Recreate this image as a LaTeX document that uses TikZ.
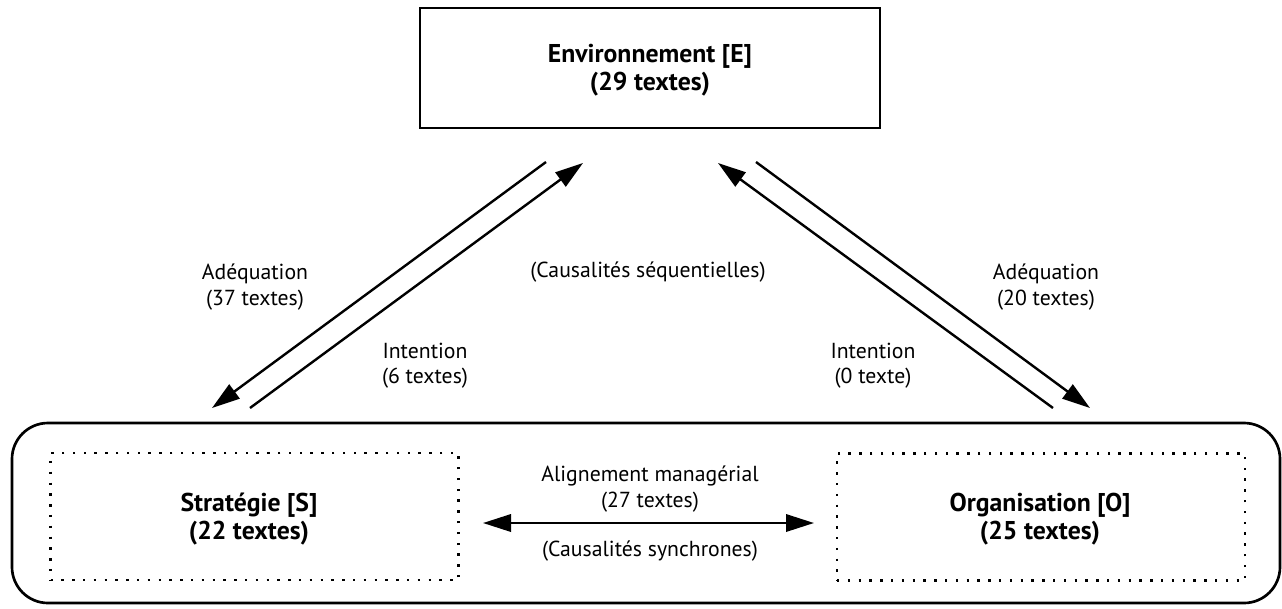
\documentclass[tikz,border=0pt]{standalone}
\usepackage{fontspec}
\setmainfont{PT Sans}
\usetikzlibrary{arrows.meta}
\begin{document}
\begin{tikzpicture}[x=0.75pt,y=-0.75pt,
  line/.style={line width=1.8pt, black},
  tip/.style={-{Triangle[length=21pt,width=13pt]}},
  dtip/.style={{Triangle[length=21pt,width=13pt]}-{Triangle[length=21pt,width=13pt]}},
  solidbox/.style={draw, line width=2.1pt, inner sep=0pt},
  dotbox/.style={draw, line width=1.8pt, dash pattern=on 1.8pt off 6.3pt, inner sep=0pt},
  boldlab/.style={font=\fontsize{19.3}{21}\selectfont\bfseries, align=center},
  lab/.style={font=\fontsize{16.3}{19}\selectfont, align=center}
]
\useasboundingbox (0,0) rectangle (1282,608);
% outer rounded box
\draw[line width=2pt, rounded corners=27pt] (12,423) rectangle (1280,603);
% boxes
\node[solidbox, minimum width=345pt, minimum height=90pt] (E) at (650,68) {};
\node[boldlab] (Et) at (650,70) {Environnement [E]\\(29 textes)};
\node[dotbox, minimum width=306pt, minimum height=95pt] (S) at (254.5,516.5) {};
\node[boldlab] (St) at (249,519) {Stratégie [S]\\(22 textes)};
\node[dotbox, minimum width=306pt, minimum height=95pt] (O) at (1041,517) {};
\node[boldlab] (Ot) at (1040,519) {Organisation [O]\\(25 textes)};
% arrow endpoints
\coordinate (a1s) at (546,162);
\coordinate (a1e) at (212,408);
\coordinate (a2s) at (250,408);
\coordinate (a2e) at (583,163);
\coordinate (b1s) at (1053,408);
\coordinate (b1e) at (718,163);
\coordinate (b2s) at (756,162);
\coordinate (b2e) at (1090,408);
\coordinate (hl) at (483,523);
\coordinate (hr) at (814,523);
\draw[line, tip] (a1s) -- (a1e);
\draw[line, tip] (a2s) -- (a2e);
\draw[line, tip] (b1s) -- (b1e);
\draw[line, tip] (b2s) -- (b2e);
\draw[line, dtip] (hl) -- (hr);
% labels
\node[lab] (l1) at (255,287) {Adéquation\\(37 textes)};
\node[lab] (l2) at (425,366) {Intention\\(6 textes)};
\node[lab] (l3) at (648,272) {(Causalités séquentielles)};
\node[lab] (l4) at (873,366) {Intention\\(0 texte)};
\node[lab] (l5) at (1046,287) {Adéquation\\(20 textes)};
\node[lab] (l6) at (650,489) {Alignement managérial\\(27 textes)};
\node[lab] (l7) at (650,551) {(Causalités synchrones)};
\end{tikzpicture}
\end{document}
